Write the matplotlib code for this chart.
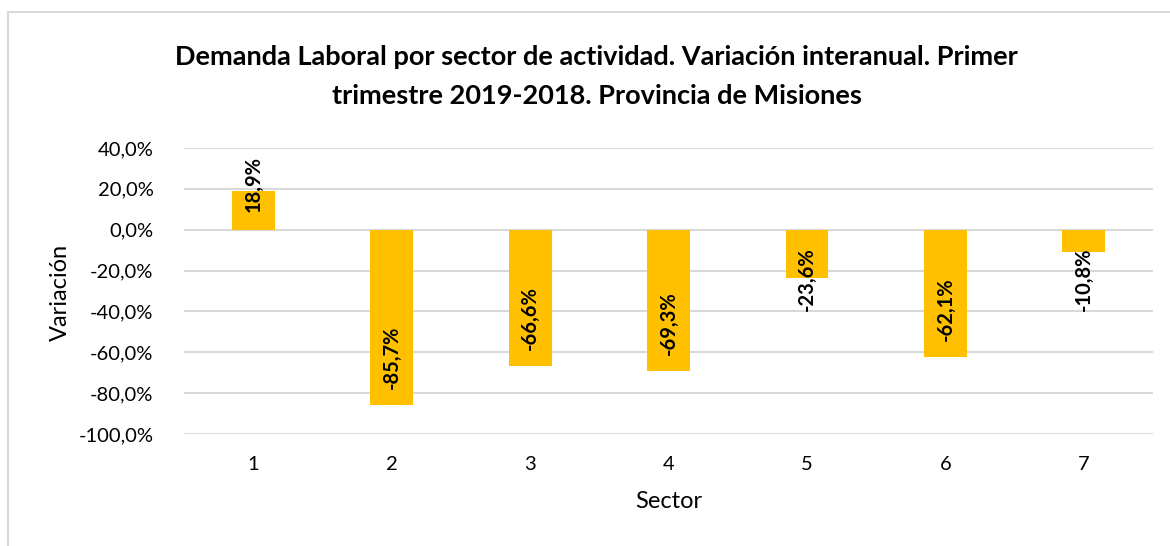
import matplotlib.pyplot as plt
import matplotlib.patches as patches
import numpy as np

plt.rcParams['font.family'] = ['Lato', 'DejaVu Sans']

sectores = ['1', '2', '3', '4', '5', '6', '7']
variacion = np.array([18.9, -85.7, -66.6, -69.3, -23.6, -62.1, -10.8])
etiquetas = ['18,9%', '-85,7%', '-66,6%', '-69,3%', '-23,6%', '-62,1%', '-10,8%']
ticks_y = [40, 20, 0, -20, -40, -60, -80, -100]

fig = plt.figure(figsize=(11.7, 5.46), dpi=100)
ax = fig.add_axes([0.1573, 0.205, 0.8282, 0.524])

# chart border (light gray, cut off on the right and bottom like the original)
fig.add_artist(patches.Rectangle((8 / 1170, -0.1), 1.2, 1 - 12 / 546 + 0.1,
                                 transform=fig.transFigure, fill=False,
                                 edgecolor='#D9D9D9', linewidth=1.5))

ind = np.arange(1, len(sectores) + 1)
ax.bar(ind, variacion, width=0.31, color='#FFC000', zorder=2)

ax.set_xlim(0.5, 7.5)
ax.set_ylim(-100, 40)
ax.set_yticks(ticks_y)
ax.set_yticklabels([f'{t:.1f}%'.replace('.', ',') for t in ticks_y])
ax.set_xticks(ind)
ax.set_xticklabels(sectores)
ax.tick_params(axis='both', length=0, labelsize=14.5, colors='black')
ax.tick_params(axis='x', pad=16)
ax.tick_params(axis='y', pad=22)
ax.grid(True, axis='y', color='#D9D9D9', linewidth=1.5, zorder=0)
for s in ax.spines.values():
    s.set_visible(False)

ax.set_xlabel('Sector', fontsize=17, labelpad=13)
fig.text(60 / 1170, 1 - 292 / 546, 'Variación', rotation=90, ha='center', va='center',
         fontsize=17)

fig.text(0.51, 0.859, 'Demanda Laboral por sector de actividad. Variación interanual. Primer\n'
         'trimestre 2019-2018. Provincia de Misiones', ha='center', va='center',
         fontsize=19.5, fontweight='bold', linespacing=1.75)

# data labels: inside end if they fit, otherwise pushed out from the base
fig.canvas.draw()
renderer = fig.canvas.get_renderer()
px_per_unit = ax.transData.transform((0, 1))[1] - ax.transData.transform((0, 0))[1]
for x, v, lab in zip(ind, variacion, etiquetas):
    t = ax.text(x, v, lab, rotation=90, ha='center', va='center', fontsize=14.5,
                fontweight='bold', zorder=3)
    L = t.get_window_extent(renderer).height
    t.remove()
    sgn = 1 if v > 0 else -1
    if abs(v) * px_per_unit - 16 >= 18 + L:
        ax.annotate(lab, (x, v), xytext=(0, -sgn * 11.5), textcoords='offset points',
                    rotation=90, ha='center', va='top' if v > 0 else 'bottom',
                    fontsize=14.5, fontweight='bold', zorder=3)
    else:
        ax.annotate(lab, (x, 0), xytext=(0, sgn * 12.5), textcoords='offset points',
                    rotation=90, ha='center', va='bottom' if v > 0 else 'top',
                    fontsize=14.5, fontweight='bold', zorder=3)

plt.savefig('out.png', dpi=100)
